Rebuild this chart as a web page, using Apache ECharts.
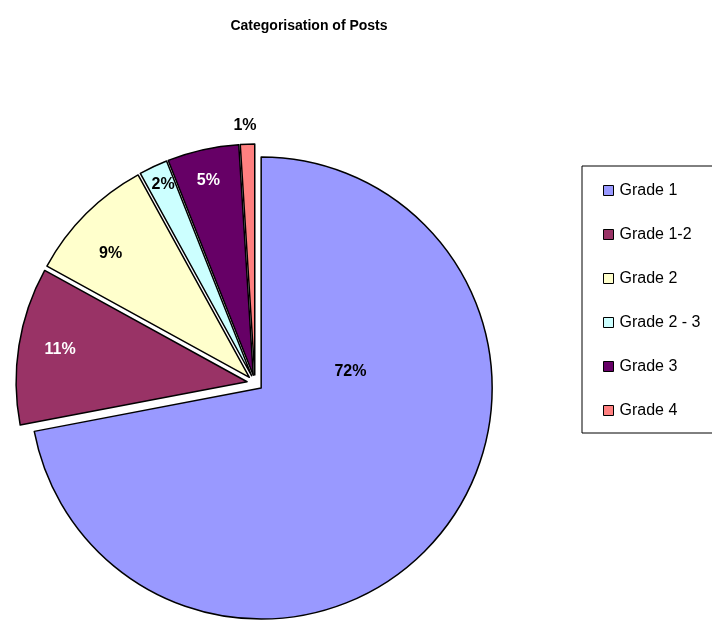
<!DOCTYPE html>
<html>
<head>
<meta charset="utf-8">
<script src="https://cdn.jsdelivr.net/npm/echarts@6/dist/echarts.min.js"></script>
<style>html,body{margin:0;padding:0;background:#fff;}#c{width:712px;height:620px;}</style>
</head>
<body>
<div id="c"></div>
<script>
var categories = ['Grade 1', 'Grade 1-2', 'Grade 2', 'Grade 2 - 3', 'Grade 3', 'Grade 4'];
var values = [72, 11, 9, 2, 5, 1];
var colors = ['#9999FF', '#993366', '#FFFFCC', '#CCFFFF', '#660066', '#FF8080'];
var labelColors = ['#000', '#fff', '#000', '#000', '#fff', '#000'];
var labelShifts = [[-2, -92], [-70, -14], [-55, -40], [-38, -84], [-19, -79], [-6, -131]];

var chart = echarts.init(document.getElementById('c'));
var data = categories.map(function (c, i) {
  return {
    name: c,
    value: values[i],
    selected: true,
    itemStyle: { color: colors[i] },
    label: { color: labelColors[i] }
  };
});
chart.setOption({
  animation: false,
  backgroundColor: '#fff',
  title: {
    text: 'Categorisation of Posts',
    left: 304, top: 14, textAlign: 'center',
    textStyle: { fontFamily: 'Liberation Sans, Arial', fontSize: 14, fontWeight: 'bold', color: '#000' }
  },
  legend: {
    orient: 'vertical',
    left: 582, top: 166,
    padding: [16, 40, 14, 21],
    borderColor: '#000', borderWidth: 1,
    itemWidth: 10, itemHeight: 10, itemGap: 27,
    selectedMode: false,
    icon: 'rect',
    itemStyle: { borderColor: '#000', borderWidth: 1 },
    textStyle: { fontFamily: 'Liberation Sans, Arial', fontSize: 16, color: '#000', padding: [0, 0, 0, 1], height: 17, lineHeight: 17 },
    data: categories
  },
  series: [{
    type: 'pie',
    center: [255, 383],
    radius: [0, 231],
    startAngle: 90,
    clockwise: true,
    selectedMode: 'multiple',
    selectedOffset: 8,
    avoidLabelOverlap: false,
    itemStyle: { borderColor: '#000', borderWidth: 1.5 },
    select: { itemStyle: { borderColor: '#000', borderWidth: 1.5 } },
    emphasis: { disabled: true },
    label: {
      show: true,
      position: 'inside',
      formatter: function (p) { return p.value + '%'; },
      fontFamily: 'Liberation Sans, Arial',
      fontSize: 16,
      fontWeight: 'bold'
    },
    labelLayout: function (p) {
      var s = labelShifts[p.dataIndex];
      return { dx: s[0], dy: s[1] };
    },
    labelLine: { show: false },
    data: data
  }]
});
</script>
</body>
</html>
